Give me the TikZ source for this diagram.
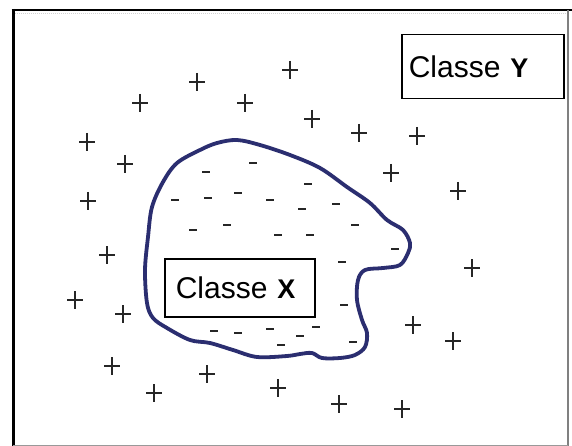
\documentclass[tikz,border=0pt]{standalone}
\usepackage{fontspec}
\setmainfont{Liberation Sans}

\definecolor{blobblue}{RGB}{43,46,112}
\newcommand{\classletter}[1]{{\fontsize{27}{30}\selectfont\bfseries #1}}

\begin{document}
\begin{tikzpicture}[x=1pt, y=-1pt,
   labelbox/.style={draw, rectangle, line width=1.5pt, anchor=north west, align=left, font=\fontsize{30}{34}\selectfont},
   plusmark/.style={draw=black!85, line width=1.6pt},
   minusmark/.style={draw=black!85, line width=2.4pt},
   outline/.style={draw=blobblue, line width=3.8pt, line join=round}
]
\useasboundingbox[fill=white] (0,0) rectangle (572,446);

% Frame
\draw[line width=3pt] (13,9) -- (13,446);
\draw[line width=2pt] (11.5,10) -- (572,10);
\draw[gray!35, densely dotted, line width=1pt] (15,14) -- (567,14);
\draw[gray, line width=1.5pt] (568,10) -- (568,446);
\draw[gray!80, line width=1pt] (13,445.5) -- (568,445.5);

% Class boundary
\draw[outline] plot[smooth cycle, tension=0.55] coordinates {
  (237,140) (260,145) (290,155) (320,168) (347,187) (370,203) (387,220)
  (403,230) (410,243) (408,253) (400,265) (383,268) (365,270) (358,280)
  (357,300) (362,320) (367,333) (365,347) (355,355) (340,358) (322,358)
  (312,353) (300,354) (287,356) (257,357) (233,350) (210,343) (190,340)
  (167,328) (153,318) (147,303) (145,270) (148,237) (152,207) (163,182)
  (177,163) (200,150) (217,143)};

% Labels
\node[labelbox, minimum width=162pt, minimum height=64pt, text width=148pt, inner xsep=7pt] (classY) at (401,34) {Classe \classletter{Y}};
\node[labelbox, minimum width=150pt, minimum height=58pt, text width=128pt, inner xsep=11pt] (classX) at (164,258) {Classe \classletter{X}};

% Samples of class Y
\foreach \x/\y in {290/70, 197/82, 140/103, 245/103, 312/119, 359/133, 417/136, 87/142,
                   125/164, 391/173, 88/201, 458/191, 107/255, 472/268, 75/300, 123/314,
                   413/325, 453/341, 112/366, 207/374, 154/393, 278/388, 339/404, 402/409}
  \draw[plusmark] (\x,\y) +(-8,0) -- +(8,0) +(0,-9) -- +(0,9);

% Samples of class X
\foreach \x/\y in {253/163, 206/172, 308/184, 175/200, 208/198, 238/193, 270/200, 302/209,
                   336/204, 193/230, 227/225, 278/235, 310/235, 355/225, 395/249, 342/262,
                   344/305, 214/331, 238/333, 270/329, 316/327, 300/336, 281/345, 353/342}
  \draw[minusmark] (\x,\y) +(-4,0) -- +(4,0);
\end{tikzpicture}
\end{document}
